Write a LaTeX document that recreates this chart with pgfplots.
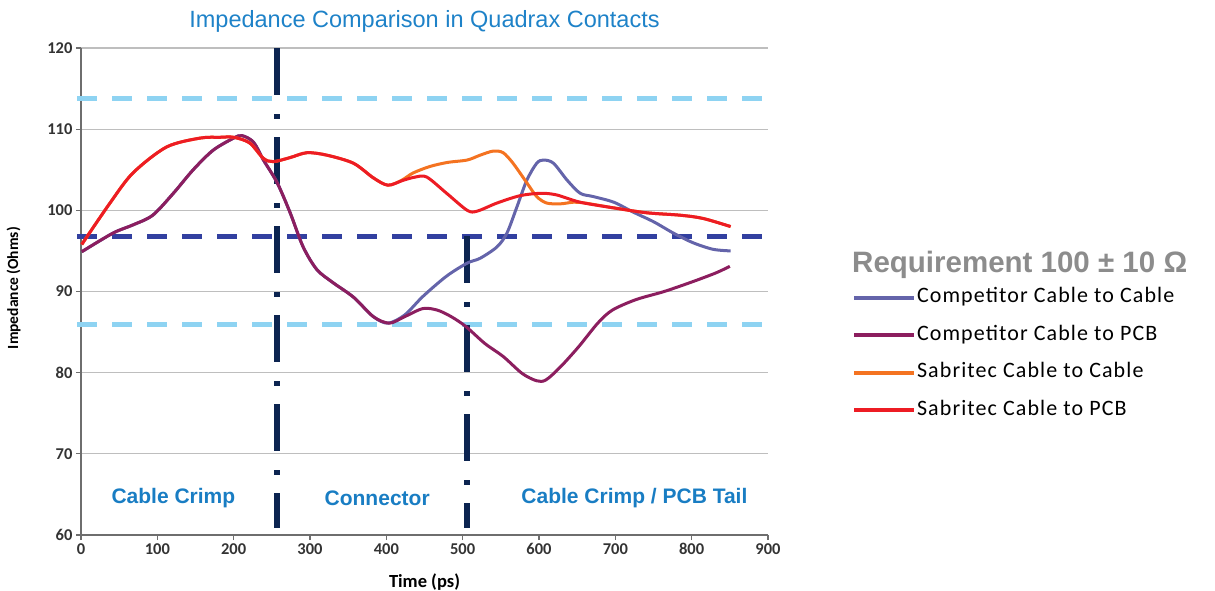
\documentclass[border=0pt]{standalone}
\usepackage{pgfplots}
\pgfplotsset{compat=1.18}
\usepackage{fontspec}
\setmainfont{Liberation Sans}
\newfontfamily\carlito{Carlito}
\newfontfamily\carlitoLS[LetterSpace=5]{Carlito}
\definecolor{redc}{RGB}{237,28,36}
\definecolor{orangec}{RGB}{244,115,33}
\definecolor{slatec}{RGB}{100,100,170}
\definecolor{maroonc}{RGB}{140,30,95}
\definecolor{lightdash}{RGB}{142,211,242}
\definecolor{darkdash}{RGB}{50,64,160}
\definecolor{navyc}{RGB}{12,36,80}
\definecolor{titlec}{RGB}{30,130,200}
\definecolor{regionc}{RGB}{25,125,195}
\definecolor{headc}{RGB}{140,140,140}
\definecolor{axisgray}{RGB}{110,110,110}
\definecolor{gridgray}{RGB}{190,190,190}
\begin{document}
\begin{tikzpicture}
\useasboundingbox (-81pt,-55pt) rectangle (1134pt,535pt);
\begin{axis}[
  at={(0pt,0pt)}, anchor=south west,
  scale only axis, width=687pt, height=487pt,
  xmin=0, xmax=900, ymin=60, ymax=120,
  xtick={0,100,...,900}, ytick={60,70,...,120},
  axis x line=bottom, axis y line=left,
  axis line style={-, draw=axisgray, line width=1.3pt},
  ymajorgrids, grid style={draw=gridgray, line width=1.3pt},
  tick align=outside, major tick length=5pt,
  tick style={draw=axisgray, line width=1.3pt},
  /pgf/number format/assume math mode=true,
  ticklabel style={font=\carlito\bfseries\fontsize{16.5}{16.5}\selectfont, text=black!80},
  xlabel={Time (ps)},
  ylabel={Impedance (Ohms)},
  xlabel style={at={(axis description cs:0.5,-0.0965)}, anchor=center, font=\carlito\bfseries\fontsize{18.5}{18.5}\selectfont},
  ylabel style={at={(axis description cs:-0.098,0.507)}, anchor=center, font=\carlito\bfseries\fontsize{15.5}{15.5}\selectfont},
  clip=false,
  legend style={at={(axis description cs:1.1223,0.372)}, anchor=west, draw=none, fill=none,
    inner sep=0pt, outer sep=0pt, row sep=17.5pt,
    font=\carlitoLS\fontsize{22}{22}\selectfont,
    nodes={text height=14pt, text depth=4pt, inner sep=1pt}},
  legend cell align=left,
  legend image code/.code={\draw[#1, line width=4pt] (0pt,0pt) -- (60pt,0pt);},
]
% requirement lines
\addplot[forget plot, lightdash, line width=5pt, dash pattern=on 20pt off 15pt] coordinates {(-5,113.8) (903,113.8)};
\addplot[forget plot, darkdash, line width=5pt, dash pattern=on 20pt off 15pt] coordinates {(-5,96.8) (903,96.8)};
\addplot[forget plot, lightdash, line width=5pt, dash pattern=on 20pt off 15pt] coordinates {(-5,85.9) (903,85.9)};
% section boundaries
\addplot[forget plot, navyc, line width=6pt, dash pattern=on 47pt off 19pt on 5pt off 18pt] coordinates {(257,120) (257,60.9)};
\addplot[forget plot, navyc, line width=6pt, dash pattern=on 47pt off 19pt on 5pt off 18pt] coordinates {(506,96.8) (506,60.9)};
% Competitor Cable to Cable
\addplot[slatec, line width=3pt, smooth, tension=0.5] coordinates {
(1,94.9) (42,97.2) (68,98.2) (94,99.4) (121,102.1) (147,105) (173,107.4) (200,108.9) (211,109.2) (226,108.4) (239,106.2) (257,103.4) (274,99.7) (291,95.5) (309,92.7) (330,91.1) (357,89.3) (383,86.9) (402,86.1)
(424,87.1) (448,89.4) (479,91.9) (506,93.5) (523,94.1) (545,95.5) (558,97.2) (571,100.4) (584,103.7) (597,105.8) (606,106.2) (619,105.8) (637,103.7) (654,102.1) (671,101.7) (698,101) (723,99.8) (750,98.6) (776,97.2) (802,96) (828,95.2) (851,95)};
\addlegendentry{Competitor Cable to Cable}
% Competitor Cable to PCB
\addplot[maroonc, line width=3pt, smooth, tension=0.5] coordinates {
(1,94.9) (42,97.2) (68,98.2) (94,99.4) (121,102.1) (147,105) (173,107.4) (200,108.9) (211,109.2) (226,108.4) (239,106.2) (257,103.4) (274,99.7) (291,95.5) (309,92.7) (330,91.1) (357,89.3) (383,86.9) (404,86.1)
(424,86.9) (448,87.9) (467,87.7) (485,86.9) (504,85.7) (529,83.6) (553,82) (578,79.9) (597,79) (609,79.1) (628,80.7) (652,83.2) (677,86.1) (696,87.7) (727,89) (764,90) (801,91.2) (832,92.3) (850,93.1)};
\addlegendentry{Competitor Cable to PCB}
% Sabritec Cable to Cable
\addplot[orangec, line width=3pt, smooth, tension=0.5] coordinates {
(1,95.8) (38,100.9) (68,104.6) (112,107.8) (156,108.9) (182,109) (200,109) (221,108.3) (239,106.4) (252,106) (274,106.5) (296,107.1) (322,106.8) (357,105.8) (383,104) (402,103.1) (420,103.7)
(435,104.6) (457,105.4) (480,105.9) (506,106.2) (523,106.8) (540,107.3) (553,107.1) (566,105.8) (584,103.4) (597,101.7) (610,100.9) (628,100.8) (645,101) (660,100.9) (698,100.3) (741,99.7) (785,99.4) (815,99) (851,98)};
\addlegendentry{Sabritec Cable to Cable}
% Sabritec Cable to PCB
\addplot[redc, line width=3pt, smooth, tension=0.5] coordinates {
(1,95.8) (38,100.9) (68,104.6) (112,107.8) (156,108.9) (182,109) (200,109) (221,108.3) (239,106.4) (252,106) (274,106.5) (296,107.1) (322,106.8) (357,105.8) (383,104) (402,103.1) (422,103.7)
(438,104.1) (453,104.1) (479,102.1) (506,100) (519,99.9) (545,100.9) (575,101.8) (602,102.1) (623,101.9) (654,101) (698,100.3) (741,99.7) (785,99.4) (815,99) (851,98)};
\addlegendentry{Sabritec Cable to PCB}
% texts
\node[anchor=base, text=titlec, font=\fontsize{23.5}{23.5}\selectfont] at (axis description cs:0.5,1) [yshift=21pt] {Impedance Comparison in Quadrax Contacts};
\node[text=regionc, font=\bfseries\fontsize{21}{21}\selectfont] at (axis cs:121,64.5) {Cable Crimp};
\node[text=regionc, font=\bfseries\fontsize{21}{21}\selectfont] at (axis cs:388,64.5) {Connector};
\node[text=regionc, font=\bfseries\fontsize{21}{21}\selectfont] at (axis cs:725,64.5) {Cable Crimp / PCB Tail};
\node[anchor=base west, inner sep=0pt, text=headc, font=\bfseries\fontsize{29.5}{29.5}\selectfont] at (axis description cs:1.1223,0.540) {Requirement 100 ± 10 Ω};
\end{axis}
\end{tikzpicture}
\end{document}
